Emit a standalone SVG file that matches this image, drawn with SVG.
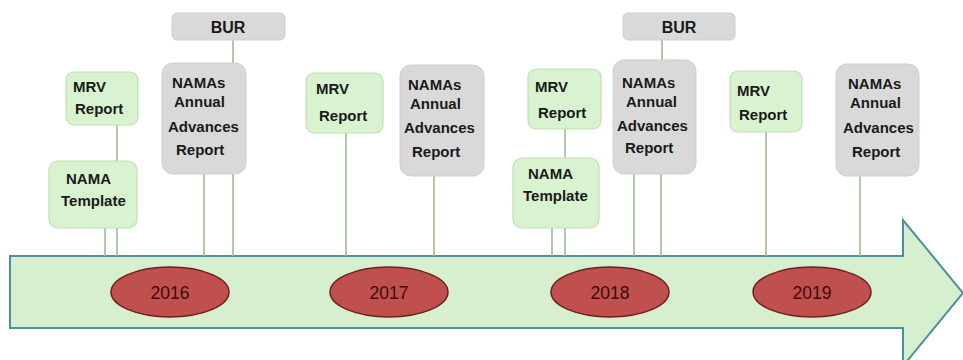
<svg xmlns="http://www.w3.org/2000/svg" width="963" height="360" viewBox="0 0 963 360">
  <style>
    .green { fill: #d9f2d0; stroke: #c3e0b5; stroke-width: 1.2; }
    .gray { fill: #d9d9d9; stroke: #cfcfcf; stroke-width: 1; }
    .lbl { font-family: "Liberation Sans", Arial, sans-serif; font-weight: bold; font-size: 15px; fill: #1a1a1a; }
    .bur { font-family: "Liberation Sans", Arial, sans-serif; font-weight: bold; font-size: 16px; fill: #1a1a1a; text-anchor: middle; }
    .year { fill: #c0504d; stroke: #6e1f1f; stroke-width: 1.5; }
    .ytxt { font-family: "Liberation Sans", Arial, sans-serif; font-size: 17.5px; fill: #3a0b0b; text-anchor: middle; }
    .conn { stroke: #9dbd8e; stroke-width: 1.6; fill: none; }
  </style>

  <rect width="963" height="360" fill="#ffffff"/>

  <!-- timeline arrow -->
  <g id="timeline">
    <path d="M10,256 H903 V220 L963,293 L903,366 V328 H10 Z" fill="#d6f0cf" stroke="#4f8e9c" stroke-width="2"/>
  </g>

  <!-- connectors -->
  <g id="connectors" class="conn">
    <line x1="117" y1="125" x2="117" y2="161"/>
    <line x1="105" y1="228" x2="105" y2="256"/>
    <line x1="117" y1="228" x2="117" y2="256"/>
    <line x1="233" y1="40" x2="233" y2="63"/>
    <line x1="204" y1="174" x2="204" y2="256"/>
    <line x1="233" y1="174" x2="233" y2="256"/>
    <line x1="346" y1="133" x2="346" y2="256"/>
    <line x1="434" y1="176" x2="434" y2="256"/>
    <line x1="565" y1="129" x2="565" y2="158"/>
    <line x1="552" y1="228" x2="552" y2="256"/>
    <line x1="565" y1="228" x2="565" y2="256"/>
    <line x1="662" y1="40" x2="662" y2="60"/>
    <line x1="634" y1="174" x2="634" y2="256"/>
    <line x1="661" y1="174" x2="661" y2="256"/>
    <line x1="766" y1="132" x2="766" y2="256"/>
    <line x1="860" y1="176" x2="860" y2="256"/>
  </g>

  <!-- 2016 -->
  <g id="mrv-2016">
    <rect class="green" x="66" y="72" width="72" height="53" rx="8"/>
    <text class="lbl" x="73" y="92">MRV</text>
    <text class="lbl" x="75" y="114">Report</text>
  </g>
  <g id="template-2016">
    <rect class="green" x="49" y="161" width="88" height="67" rx="9"/>
    <text class="lbl" x="66" y="184">NAMA</text>
    <text class="lbl" x="61" y="206">Template</text>
  </g>
  <g id="bur-2016">
    <rect class="gray" x="172" y="13" width="113" height="27" rx="5"/>
    <text class="bur" x="228" y="33">BUR</text>
  </g>
  <g id="namas-2016">
    <rect class="gray" x="162" y="63" width="84" height="111" rx="11"/>
    <text class="lbl" x="172" y="88">NAMAs</text>
    <text class="lbl" x="174" y="107">Annual</text>
    <text class="lbl" x="168" y="132">Advances</text>
    <text class="lbl" x="176" y="155">Report</text>
  </g>
  <g id="year-2016">
    <ellipse class="year" cx="170" cy="292" rx="59" ry="25"/>
    <text class="ytxt" x="170" y="299">2016</text>
  </g>

  <!-- 2017 -->
  <g id="mrv-2017">
    <rect class="green" x="306" y="73" width="77" height="60" rx="8"/>
    <text class="lbl" x="316" y="94">MRV</text>
    <text class="lbl" x="319" y="121">Report</text>
  </g>
  <g id="namas-2017">
    <rect class="gray" x="400" y="65" width="84" height="111" rx="11"/>
    <text class="lbl" x="408" y="90">NAMAs</text>
    <text class="lbl" x="410" y="109">Annual</text>
    <text class="lbl" x="404" y="133">Advances</text>
    <text class="lbl" x="412" y="157">Report</text>
  </g>
  <g id="year-2017">
    <ellipse class="year" cx="389" cy="292" rx="59" ry="25"/>
    <text class="ytxt" x="389" y="299">2017</text>
  </g>

  <!-- 2018 -->
  <g id="mrv-2018">
    <rect class="green" x="528" y="69" width="73" height="60" rx="8"/>
    <text class="lbl" x="535" y="92">MRV</text>
    <text class="lbl" x="538" y="118">Report</text>
  </g>
  <g id="template-2018">
    <rect class="green" x="513" y="158" width="86" height="70" rx="9"/>
    <text class="lbl" x="528" y="179">NAMA</text>
    <text class="lbl" x="523" y="201">Template</text>
  </g>
  <g id="bur-2018">
    <rect class="gray" x="623" y="13" width="112" height="27" rx="5"/>
    <text class="bur" x="679" y="33">BUR</text>
  </g>
  <g id="namas-2018">
    <rect class="gray" x="613" y="60" width="83" height="114" rx="11"/>
    <text class="lbl" x="622" y="88">NAMAs</text>
    <text class="lbl" x="626" y="107">Annual</text>
    <text class="lbl" x="617" y="131">Advances</text>
    <text class="lbl" x="625" y="153">Report</text>
  </g>
  <g id="year-2018">
    <ellipse class="year" cx="610" cy="292" rx="59" ry="25"/>
    <text class="ytxt" x="610" y="299">2018</text>
  </g>

  <!-- 2019 -->
  <g id="mrv-2019">
    <rect class="green" x="730" y="71" width="72" height="61" rx="8"/>
    <text class="lbl" x="737" y="96">MRV</text>
    <text class="lbl" x="739" y="120">Report</text>
  </g>
  <g id="namas-2019">
    <rect class="gray" x="836" y="64" width="83" height="112" rx="11"/>
    <text class="lbl" x="848" y="89">NAMAs</text>
    <text class="lbl" x="850" y="108">Annual</text>
    <text class="lbl" x="843" y="133">Advances</text>
    <text class="lbl" x="852" y="157">Report</text>
  </g>
  <g id="year-2019">
    <ellipse class="year" cx="812" cy="292" rx="59" ry="25"/>
    <text class="ytxt" x="812" y="299">2019</text>
  </g>
</svg>
